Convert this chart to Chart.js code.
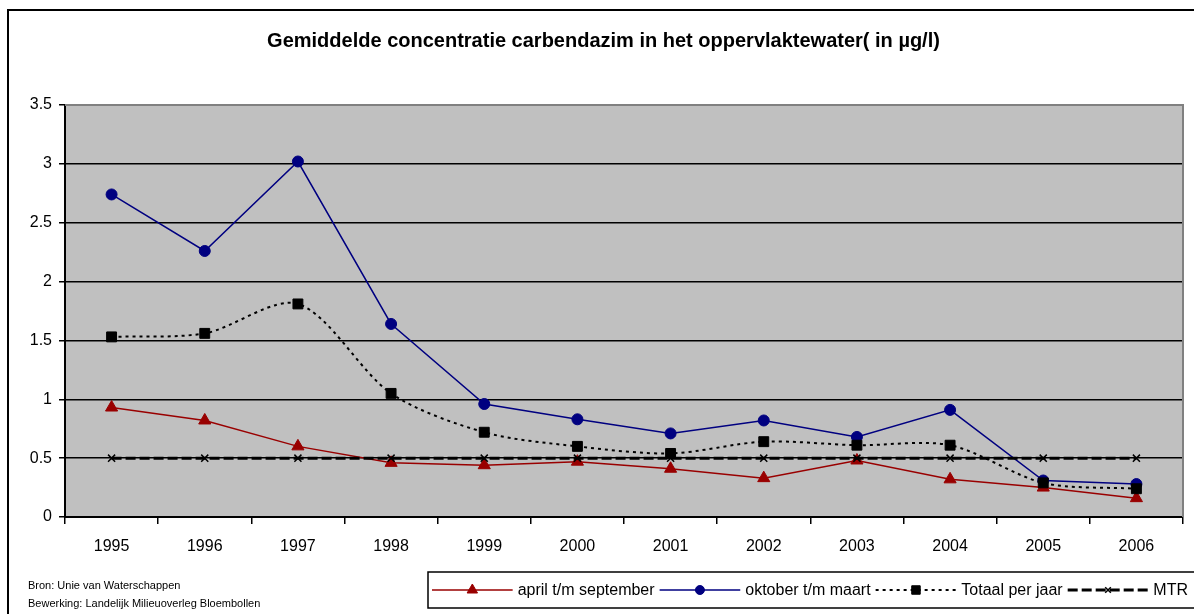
<!DOCTYPE html>
<html>
<head>
<meta charset="utf-8">
<script src="https://cdn.jsdelivr.net/npm/chart.js@4.4.0/dist/chart.umd.min.js"></script>
<style>
  body { margin: 0; background: #fff; }
  #wrap { width: 1194px; height: 614px; }
</style>
</head>
<body>
<div id="wrap"><canvas id="grafiek" width="1194" height="614"></canvas></div>
<script>
const jaren = ['1995', '1996', '1997', '1998', '1999', '2000', '2001', '2002', '2003', '2004', '2005', '2006'];
const aprilSept = [0.93, 0.82, 0.60, 0.46, 0.44, 0.47, 0.41, 0.33, 0.48, 0.32, 0.25, 0.16];
const oktMaart = [2.74, 2.26, 3.02, 1.64, 0.96, 0.83, 0.71, 0.82, 0.68, 0.91, 0.31, 0.28];
const totaalJaar = [1.53, 1.56, 1.81, 1.05, 0.72, 0.60, 0.54, 0.64, 0.61, 0.61, 0.29, 0.24];
const mtr = [0.5, 0.5, 0.5, 0.5, 0.5, 0.5, 0.5, 0.5, 0.5, 0.5, 0.5, 0.5];
const yTicks = [0, 0.5, 1, 1.5, 2, 2.5, 3, 3.5];

const titel = 'Gemiddelde concentratie carbendazim in het oppervlaktewater( in µg/l)';
const bron = ['Bron: Unie van Waterschappen', 'Bewerking: Landelijk Milieuoverleg Bloembollen'];

const fontFam = '"Liberation Sans", Arial, sans-serif';

// grijze achtergrond, kader en randen van het plotvlak
const achtergrond = {
    id: 'achtergrond',
    beforeDraw(chart) {
        const c = chart.ctx;
        const a = chart.chartArea;
        c.save();
        c.fillStyle = '#fff';
        c.fillRect(0, 0, chart.width, chart.height);
        c.strokeStyle = '#000';
        c.lineWidth = 2;
        c.strokeRect(8, 10, chart.width + 20, chart.height + 20);
        c.fillStyle = '#c0c0c0';
        c.fillRect(a.left, a.top, a.right - a.left, a.bottom - a.top);
        c.restore();
    },
    afterDatasetsDraw(chart) {
        const c = chart.ctx;
        const a = chart.chartArea;
        c.save();
        c.strokeStyle = '#808080';
        c.lineWidth = 2;
        c.beginPath();
        c.moveTo(a.left, a.top);
        c.lineTo(a.right, a.top);
        c.lineTo(a.right, a.bottom);
        c.stroke();
        c.restore();
    }
};

// legenda onderaan in een kader, plus de bronvermelding
const legendaBron = {
    id: 'legendaBron',
    afterDraw(chart) {
        const c = chart.ctx;
        c.save();
        c.font = '11px ' + fontFam;
        c.fillStyle = '#000';
        c.textBaseline = 'middle';
        c.fillText(bron[0], 28, 586);
        c.fillText(bron[1], 28, 604);

        const boxX = 428, boxY = 572, boxH = 36;
        c.strokeStyle = '#000';
        c.lineWidth = 1.5;
        c.strokeRect(boxX, boxY, chart.width, boxH);

        c.font = '16px ' + fontFam;
        const sets = chart.data.datasets;
        const tekstB = sets.reduce((s, d) => s + c.measureText(d.label).width, 0);
        const eind = 1188, start = boxX + 4;
        const gapT = 5, gapN = 5;
        const lijnL = (eind - start - tekstB - sets.length * gapT - (sets.length - 1) * gapN) / sets.length;
        const midY = boxY + boxH / 2;
        let x = start;
        sets.forEach((d) => {
            c.save();
            c.strokeStyle = d.borderColor;
            c.fillStyle = d.pointBackgroundColor;
            c.lineWidth = d.borderWidth;
            c.setLineDash(d.borderDash || []);
            c.beginPath();
            c.moveTo(x, midY);
            c.lineTo(x + lijnL, midY);
            c.stroke();
            c.setLineDash([]);
            c.lineWidth = d.pointBorderWidth || 1;
            Chart.helpers.drawPoint(c, {
                pointStyle: d.pointStyle,
                radius: d.pointRadius - 1,
                borderWidth: d.pointBorderWidth || 1,
                rotation: 0
            }, x + lijnL / 2, midY);
            c.restore();
            x += lijnL + gapT;
            c.fillStyle = '#000';
            c.fillText(d.label, x, midY + 1);
            x += c.measureText(d.label).width + gapN;
        });
        c.restore();
    }
};

Chart.register(achtergrond, legendaBron);

const ctx = document.getElementById('grafiek').getContext('2d');
const grafiek = new Chart(ctx, {
    type: 'line',
    data: {
        labels: jaren,
        datasets: [{
            label: 'april t/m september',
            data: aprilSept,
            borderColor: '#990000',
            backgroundColor: '#990000',
            pointBackgroundColor: '#990000',
            pointBorderColor: '#990000',
            borderWidth: 1.5,
            pointStyle: 'triangle',
            pointRadius: 7,
            pointBorderWidth: 1,
            order: 3
        }, {
            label: 'oktober t/m maart',
            data: oktMaart,
            borderColor: '#000080',
            backgroundColor: '#000080',
            pointBackgroundColor: '#000080',
            pointBorderColor: '#000080',
            borderWidth: 1.5,
            pointStyle: 'circle',
            pointRadius: 5.5,
            pointBorderWidth: 1,
            order: 2
        }, {
            label: 'Totaal per jaar',
            data: totaalJaar,
            borderColor: '#000',
            backgroundColor: '#000',
            pointBackgroundColor: '#000',
            pointBorderColor: '#000',
            borderWidth: 2,
            borderDash: [3, 4],
            tension: 0.3,
            pointStyle: 'rect',
            pointRadius: 7,
            pointBorderWidth: 1,
            order: 1
        }, {
            label: 'MTR',
            data: mtr,
            borderColor: '#000',
            backgroundColor: '#000',
            pointBackgroundColor: '#000',
            pointBorderColor: '#000',
            borderWidth: 3,
            borderDash: [10, 4],
            pointStyle: 'crossRot',
            pointRadius: 5,
            pointBorderWidth: 1.5,
            order: 0
        }]
    },
    options: {
        responsive: false,
        animation: false,
        layout: { padding: { left: 24, right: 11, top: 0, bottom: 0 } },
        plugins: {
            legend: { display: false },
            tooltip: { enabled: false },
            title: {
                display: true,
                text: titel,
                color: '#000',
                font: { family: fontFam, size: 20, weight: 'bold' },
                padding: { top: 29, bottom: 52 }
            }
        },
        scales: {
            x: {
                offset: true,
                grid: { offset: true, drawOnChartArea: false, drawTicks: true, tickLength: 7, color: '#000', lineWidth: 1.5 },
                border: { display: true, color: '#000', width: 2 },
                ticks: { color: '#000', font: { family: fontFam, size: 16 }, padding: 13, maxRotation: 0 },
                afterFit(scale) { scale.height = 97; }
            },
            y: {
                min: 0,
                max: 3.5,
                afterBuildTicks(scale) { scale.ticks = yTicks.map(v => ({ value: v })); },
                grid: {
                    color: (c) => (c.tick && c.tick.value === 3.5) ? '#808080' : '#000',
                    tickColor: '#000',
                    lineWidth: 1.5,
                    tickLength: 6
                },
                border: { display: true, color: '#000', width: 2 },
                ticks: {
                    color: '#000',
                    font: { family: fontFam, size: 16 },
                    padding: 7,
                    callback: (v) => String(v)
                },
                afterFit(scale) { scale.width = 41; }
            }
        }
    }
});
</script>
</body>
</html>
